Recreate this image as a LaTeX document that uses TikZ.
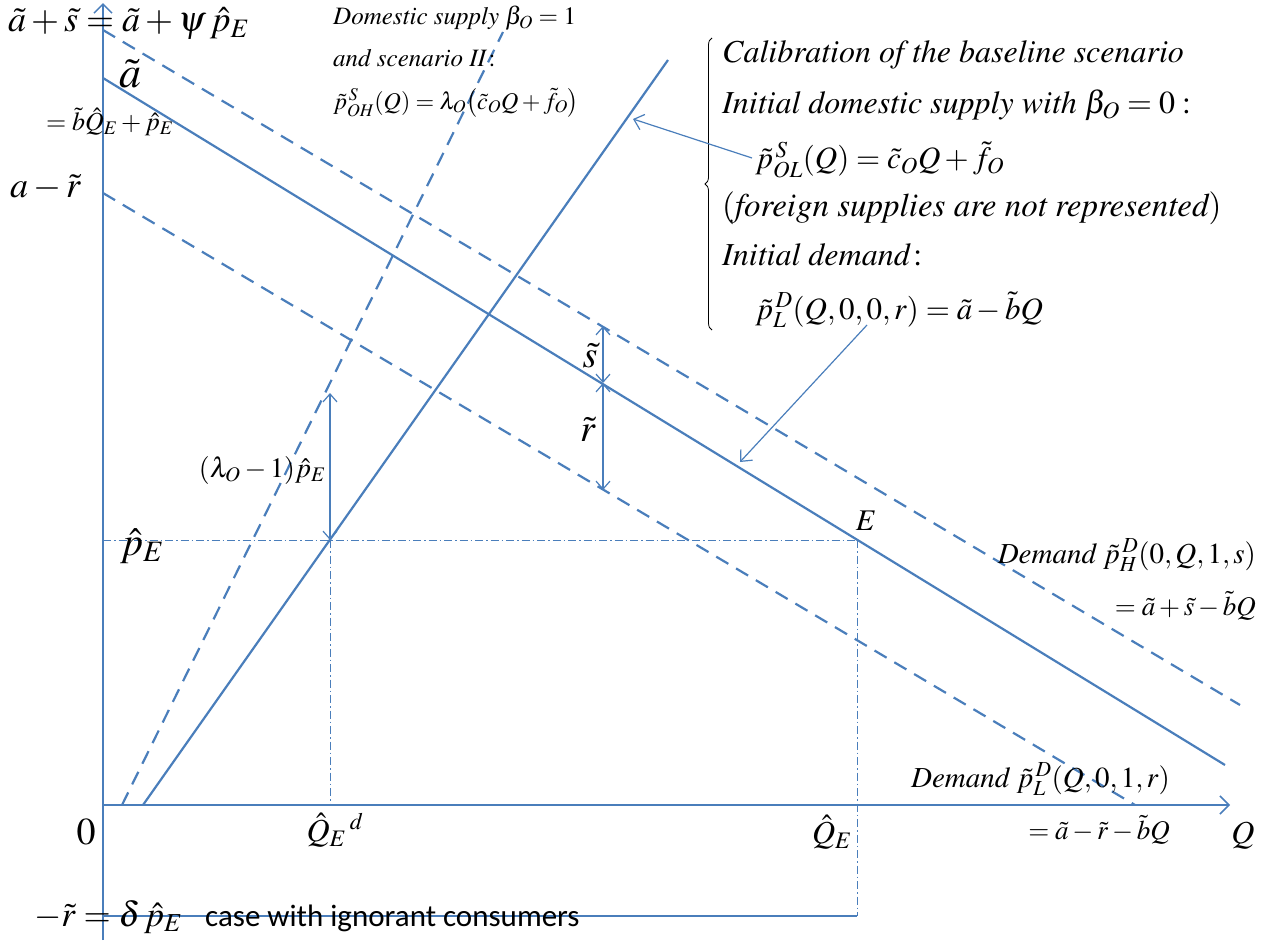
\documentclass[tikz,border=0pt]{standalone}
\usepackage{mathptmx}
\usepackage{fontspec}
\setmainfont{Liberation Serif}
\newfontfamily\calfont{Carlito}
\usetikzlibrary{arrows.meta,decorations.pathreplacing}
\definecolor{lineblue}{RGB}{74,126,187}
\newcommand{\fs}[1]{\fontsize{#1}{#1}\selectfont}
\newcommand{\tit}[1]{{\fontencoding{OT1}\fontfamily{ptm}\fontshape{it}\selectfont #1}}
\begin{document}
\begin{tikzpicture}[x=1pt,y=-1pt,
 curve/.style={lineblue,line width=2.2pt},
 dcurve/.style={curve,dash pattern=on 14pt off 9pt},
 guide/.style={lineblue,line width=1pt,dash pattern=on 8pt off 3pt on 1.5pt off 3pt},
 axisline/.style={lineblue,line width=1.5pt,-{Straight Barb[length=9pt,width=18pt]}},
 pointer/.style={lineblue,line width=1.2pt,-{Straight Barb[length=9pt,width=16pt]}},
 dim/.style={lineblue,line width=1.2pt,{Straight Barb[length=8pt,width=14pt]}-{Straight Barb[length=8pt,width=14pt]}},
 lbl/.style={inner sep=0pt,text=black},
]
\useasboundingbox (0,0) rectangle (1274,940);
% coordinates
\coordinate (O) at (103,805);
\coordinate (ytop) at (103,3);
\coordinate (ybot) at (103,940);
\coordinate (xend) at (1230,805);
\coordinate (dL0) at (103,78);  \coordinate (dL1) at (1225,765);
\coordinate (dH0) at (103,30);  \coordinate (dH1) at (1240,705);
\coordinate (dR0) at (103,193); \coordinate (dR1) at (1135,805);
\coordinate (sL0) at (143,805); \coordinate (sL1) at (668,60);
\coordinate (sH0) at (122,805); \coordinate (sH1) at (503,32);
\coordinate (pE) at (103,540);
\coordinate (E) at (857,540);
\coordinate (Ed) at (330,540);
\coordinate (Qd) at (330,805);
\coordinate (QE) at (857,916);
\coordinate (rb) at (103,916);
\coordinate (lamtop) at (330,393);
\coordinate (s1) at (603,326);
\coordinate (s2) at (603,383);
\coordinate (s3) at (603,490);
\coordinate (ptS) at (633,119);
\coordinate (ptD) at (740,462);
\coordinate (brB) at (712,330);
\coordinate (brT) at (712,38);

% axes
\draw[axisline] (ybot) -- (ytop);
\draw[axisline] (O) -- (xend);
% demand lines
\draw[curve] (dL0) -- (dL1);
\draw[dcurve] (dH0) -- (dH1);
\draw[dcurve] (dR0) -- (dR1);
% supply lines
\draw[curve] (sL0) -- (sL1);
\draw[dcurve] (sH0) -- (sH1);
% guides
\draw[guide] (pE) -- (E);
\draw[guide] (Ed) -- (Qd);
\draw[guide] (E) -- (QE);
\draw[lineblue,line width=1.5pt] (rb) -- (QE);
% dimension arrows
\draw[dim] (s1) -- (s2);
\draw[dim] (s2) -- (s3);
\draw[dim] (lamtop) -- (Ed);
% brace
\draw[black,line width=0.8pt,decorate,decoration={brace,amplitude=7pt}] (brB) -- (brT);

% labels left
\node[lbl,anchor=west] (lasp) at (8,24) {\fs{36}$\tilde a+\tilde s=\tilde a+\psi\,\hat p_E$};
\node[lbl] (la) at (130,74) {\fs{44}$\tilde a$};
\node[lbl,anchor=west] (laeq) at (46,122) {\fs{26}$=\tilde b\hat Q_E+\hat p_E$};
\node[lbl,anchor=west] (lamr) at (10,188) {\fs{36}$a-\tilde r$};
\node[lbl] (lpE) at (142,546) {\fs{40}$\hat p_E$};
\node[lbl,anchor=east] (llam) at (326,470) {\fs{28}$(\lambda_O-1)\hat p_E$};
\node[lbl] (lzero) at (86,832) {\fs{38}$0$};
\node[lbl] (lQd) at (335,830) {\fs{32}$\hat Q_E\,{}^{d}$};
\node[lbl] (lQE) at (832,832) {\fs{32}$\hat Q_E$};
\node[lbl] (lQ) at (1243,836) {\fs{32}$Q$};
\node[lbl,anchor=west] (lrd) at (34,917) {\fs{35}$-\tilde r=\delta\,\hat p_E$};
\node[lbl,anchor=west] (lcase) at (205,918) {\calfont\fs{31}case with ignorant consumers};
% domestic supply block
\node[lbl,anchor=west] (dom1) at (333,18) {\fs{25}\tit{Domestic supply} $\beta_O=1$};
\node[lbl,anchor=west] (dom2) at (333,58) {\fs{25}\tit{and scenario II}$\,:$};
\node[lbl,anchor=west] (dom3) at (333,103) {\fs{24}$\tilde p^{\,S}_{OH}(Q)=\lambda_O\bigl(\tilde c_OQ+\tilde f_O\bigr)$};
% brace block
\node[lbl,anchor=west] (cal1) at (722,55) {\fs{32}\tit{Calibration of the baseline scenario}};
\node[lbl,anchor=west] (cal2) at (722,105) {\fs{32}\tit{Initial domestic supply with} $\beta_O=0:$};
\node[lbl,anchor=west] (cal3) at (755,160) {\fs{31}$\tilde p^{\,S}_{OL}(Q)=\tilde c_OQ+\tilde f_O$};
\node[lbl,anchor=west] (cal4) at (722,208) {\fs{33}$($\tit{foreign supplies are not represented}$)$};
\node[lbl,anchor=west] (cal5) at (722,255) {\fs{32}\tit{Initial demand}$\,:$};
\node[lbl,anchor=west] (cal6) at (755,310) {\fs{31}$\tilde p^{\,D}_{L}(Q,0,0,r)=\tilde a-\tilde bQ$};
% middle labels
\node[lbl] (ls) at (590,356) {\fs{38}$\tilde s$};
\node[lbl] (lr) at (588,430) {\fs{38}$\tilde r$};
\node[lbl] (lE) at (866,521) {\fs{30}$E$};
% demand labels right
\node[lbl,anchor=east] (dH1a) at (1256,555) {\fs{29}\tit{Demand} $\tilde p^{\,D}_H(0,Q,1,s)$};
\node[lbl,anchor=east] (dH1b) at (1256,606) {\fs{27}$=\tilde a+\tilde s-\tilde bQ$};
\node[lbl,anchor=east] (dR1a) at (1170,779) {\fs{29}\tit{Demand} $\tilde p^{\,D}_L(Q,0,1,r)$};
\node[lbl,anchor=east] (dR1b) at (1170,830) {\fs{27}$=\tilde a-\tilde r-\tilde bQ$};
% pointers
\draw[pointer] (cal3.west) ++(-3,-2) -- (ptS);
\draw[pointer] (867,325) -- (ptD);
\end{tikzpicture}
\end{document}
